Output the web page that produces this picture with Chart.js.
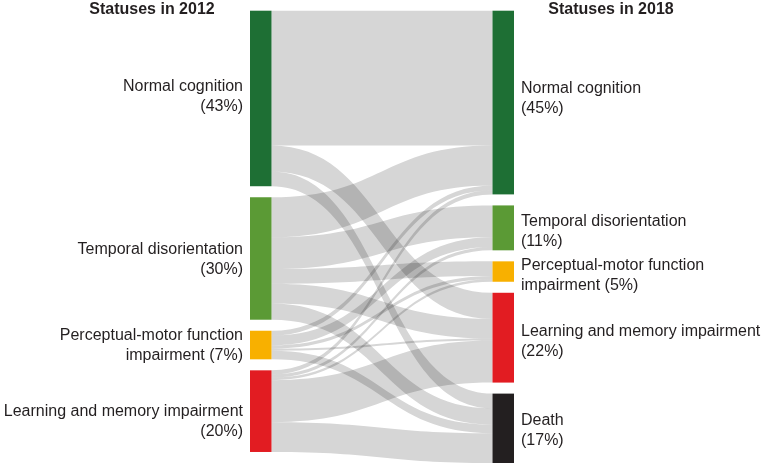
<!DOCTYPE html>
<html>
<head>
<meta charset="utf-8">
<script src="https://cdn.jsdelivr.net/npm/chart.js"></script>
<style>
  html, body { margin: 0; background: #fff; }
</style>
</head>
<body>
<canvas id="sankey" width="764" height="466"></canvas>
<script>
// statuses (2012 on the left, 2018 on the right)
const sourceNames = [['Normal cognition'], ['Temporal disorientation'], ['Perceptual-motor function', 'impairment'], ['Learning and memory impairment']];
const targetNames = [['Normal cognition'], ['Temporal disorientation'], ['Perceptual-motor function', 'impairment'], ['Learning and memory impairment'], ['Death']];
const sourceShares = [43, 30, 7, 20];
const targetShares = [45, 11, 5, 22, 17];
const columnTitles = ['Statuses in 2012', 'Statuses in 2018'];

// flows in % of cohort, one array per 2012 status, in 2018 status order
const fromNormal = [33.0, 0, 0, 6.4, 3.6];
const fromTemporal = [9.8, 7.8, 3.6, 4.8, 4.0];
const fromPerceptual = [1.2, 2.4, 0.8, 0.5, 2.1];
const fromLearning = [1.0, 0.8, 0.6, 10.3, 7.3];
const flows = [fromNormal, fromTemporal, fromPerceptual, fromLearning];

const nodeColors = ['#1e6f34', '#5b9a35', '#f8b000', '#e21c22', '#231f20'];
const linkColor = '#d6d6d6';
const textColor = '#231f20';
const gap = 2.7;        // space between nodes, in value units
const nodeWidth = 21.5; // px
// small vertical label nudges (px), like the hand-placed labels of the original
const leftLabelNudge = [-3, 0, 0, 9];
const rightLabelNudge = [-6, 2, 2, 2, 0];

function sum(a) { return a.reduce((s, v) => s + v, 0); }

function stack(shares) {
  let y = 0;
  return shares.map(v => { const s = y; y += v + gap; return [s, s + v]; });
}

function labelLines(name, share) {
  const lines = name.slice();
  const pct = '(' + share + '%)';
  if (lines.length > 1) lines[lines.length - 1] += ' ' + pct;
  else lines.push(pct);
  return lines;
}

const sankeyPlugin = {
  id: 'sankey',
  afterDraw(chart) {
    const ctx = chart.ctx;
    const xs = chart.scales.x, ys = chart.scales.y;
    const srcPos = stack(sourceShares);
    const tgtPos = stack(targetShares);
    const xL = xs.getPixelForValue(0), xR = xs.getPixelForValue(1);
    const x0 = xL + nodeWidth, x1 = xR - nodeWidth;

    // links
    const srcOff = srcPos.map(p => p[0]);
    const tgtOff = tgtPos.map(p => p[0]);
    ctx.save();
    ctx.globalCompositeOperation = 'multiply';
    ctx.fillStyle = linkColor;
    flows.forEach((row, i) => {
      row.forEach((v, j) => {
        if (v <= 0) return;
        const a0 = ys.getPixelForValue(srcOff[i]), b0 = ys.getPixelForValue(srcOff[i] + v);
        const a1 = ys.getPixelForValue(tgtOff[j]), b1 = ys.getPixelForValue(tgtOff[j] + v);
        srcOff[i] += v;
        tgtOff[j] += v;
        const xm = (x0 + x1) / 2;
        ctx.beginPath();
        ctx.moveTo(x0, a0);
        ctx.bezierCurveTo(xm, a0, xm, a1, x1, a1);
        ctx.lineTo(x1, b1);
        ctx.bezierCurveTo(xm, b1, xm, b0, x0, b0);
        ctx.closePath();
        ctx.fill();
      });
    });
    ctx.restore();

    // nodes and labels
    ctx.save();
    ctx.font = '16px "Liberation Sans", Arial, sans-serif';
    ctx.textBaseline = 'middle';
    srcPos.forEach((p, i) => {
      const top = ys.getPixelForValue(p[0]), bot = ys.getPixelForValue(p[1]);
      ctx.fillStyle = nodeColors[i];
      ctx.fillRect(xL, top, nodeWidth, bot - top);
      ctx.fillStyle = textColor;
      ctx.textAlign = 'right';
      const c = (top + bot) / 2 + 1 + leftLabelNudge[i];
      labelLines(sourceNames[i], sourceShares[i]).forEach((t, k) => ctx.fillText(t, xL - 7, c - 10 + k * 20));
    });
    tgtPos.forEach((p, j) => {
      const top = ys.getPixelForValue(p[0]), bot = ys.getPixelForValue(p[1]);
      ctx.fillStyle = nodeColors[j];
      ctx.fillRect(x1, top, nodeWidth, bot - top);
      ctx.fillStyle = textColor;
      ctx.textAlign = 'left';
      const c = (top + bot) / 2 + 2 + rightLabelNudge[j];
      labelLines(targetNames[j], targetShares[j]).forEach((t, k) => ctx.fillText(t, xR + 7, c - 10 + k * 20));
    });

    // column titles
    ctx.font = 'bold 16px "Liberation Sans", Arial, sans-serif';
    ctx.textAlign = 'center';
    ctx.fillText(columnTitles[0], 152, 10);
    ctx.fillText(columnTitles[1], 611, 10);
    ctx.restore();
  }
};

const ctx = document.getElementById('sankey').getContext('2d');
new Chart(ctx, {
  type: 'scatter',
  data: { datasets: [] },
  options: {
    responsive: false,
    animation: false,
    layout: { padding: { left: 250, right: 250, top: 10.7, bottom: 3 } },
    plugins: { legend: { display: false }, tooltip: { enabled: false } },
    scales: {
      x: { type: 'linear', min: 0, max: 1, display: false },
      y: { type: 'linear', min: 0, max: sum(targetShares) + gap * (targetShares.length - 1), reverse: true, display: false }
    }
  },
  plugins: [sankeyPlugin]
});
</script>
</body>
</html>
